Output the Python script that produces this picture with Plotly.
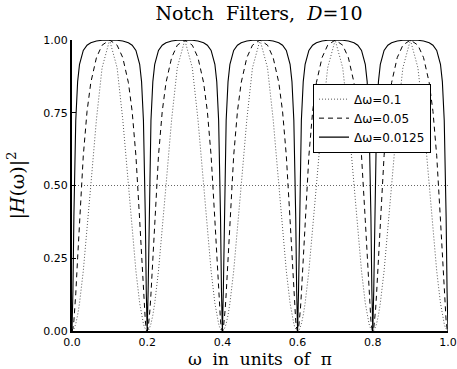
import plotly.graph_objects as go

# frequency in units of pi
omega = [
    0, 0.0025, 0.005, 0.0075, 0.01, 0.015, 0.02, 0.03, 0.04, 0.05, 0.065, 0.08, 0.1, 0.12, 0.135, 0.15, 0.16, 0.17, 0.18, 0.185, 0.19, 0.1925, 0.195, 0.1975,
    0.2, 0.2025, 0.205, 0.2075, 0.21, 0.215, 0.22, 0.23, 0.24, 0.25, 0.265, 0.28, 0.3, 0.32, 0.335, 0.35, 0.36, 0.37, 0.38, 0.385, 0.39, 0.3925, 0.395, 0.3975,
    0.4, 0.4025, 0.405, 0.4075, 0.41, 0.415, 0.42, 0.43, 0.44, 0.45, 0.465, 0.48, 0.5, 0.52, 0.535, 0.55, 0.56, 0.57, 0.58, 0.585, 0.59, 0.5925, 0.595, 0.5975,
    0.6, 0.6025, 0.605, 0.6075, 0.61, 0.615, 0.62, 0.63, 0.64, 0.65, 0.665, 0.68, 0.7, 0.72, 0.735, 0.75, 0.76, 0.77, 0.78, 0.785, 0.79, 0.7925, 0.795, 0.7975,
    0.8, 0.8025, 0.805, 0.8075, 0.81, 0.815, 0.82, 0.83, 0.84, 0.85, 0.865, 0.88, 0.9, 0.92, 0.935, 0.95, 0.96, 0.97, 0.98, 0.985, 0.99, 0.9925, 0.995, 0.9975,
    1.0,
]

h_01 = [
    0, 0.0015, 0.0062, 0.0138, 0.0245, 0.0545, 0.0955, 0.2061, 0.3455, 0.5, 0.727, 0.9045, 1.0, 0.9045, 0.727, 0.5, 0.3455, 0.2061, 0.0955, 0.0545, 0.0245, 0.0138, 0.0062, 0.0015,
    0, 0.0015, 0.0062, 0.0138, 0.0245, 0.0545, 0.0955, 0.2061, 0.3455, 0.5, 0.727, 0.9045, 1.0, 0.9045, 0.727, 0.5, 0.3455, 0.2061, 0.0955, 0.0545, 0.0245, 0.0138, 0.0062, 0.0015,
    0, 0.0015, 0.0062, 0.0138, 0.0245, 0.0545, 0.0955, 0.2061, 0.3455, 0.5, 0.727, 0.9045, 1.0, 0.9045, 0.727, 0.5, 0.3455, 0.2061, 0.0955, 0.0545, 0.0245, 0.0138, 0.0062, 0.0015,
    0, 0.0015, 0.0062, 0.0138, 0.0245, 0.0545, 0.0955, 0.2061, 0.3455, 0.5, 0.727, 0.9045, 1.0, 0.9045, 0.727, 0.5, 0.3455, 0.2061, 0.0955, 0.0545, 0.0245, 0.0138, 0.0062, 0.0015,
    0, 0.0015, 0.0062, 0.0138, 0.0245, 0.0545, 0.0955, 0.2061, 0.3455, 0.5, 0.727, 0.9045, 1.0, 0.9045, 0.727, 0.5, 0.3455, 0.2061, 0.0955, 0.0545, 0.0245, 0.0138, 0.0062, 0.0015,
    0,
]

h_005 = [
    0, 0.0089, 0.0349, 0.0755, 0.1275, 0.2514, 0.3809, 0.6021, 0.7547, 0.8535, 0.9395, 0.9822, 1.0, 0.9822, 0.9395, 0.8535, 0.7547, 0.6021, 0.3809, 0.2514, 0.1275, 0.0755, 0.0349, 0.0089,
    0, 0.0089, 0.0349, 0.0755, 0.1275, 0.2514, 0.3809, 0.6021, 0.7547, 0.8535, 0.9395, 0.9822, 1.0, 0.9822, 0.9395, 0.8535, 0.7547, 0.6021, 0.3809, 0.2514, 0.1275, 0.0755, 0.0349, 0.0089,
    0, 0.0089, 0.0349, 0.0755, 0.1275, 0.2514, 0.3809, 0.6021, 0.7547, 0.8535, 0.9395, 0.9822, 1.0, 0.9822, 0.9395, 0.8535, 0.7547, 0.6021, 0.3809, 0.2514, 0.1275, 0.0755, 0.0349, 0.0089,
    0, 0.0089, 0.0349, 0.0755, 0.1275, 0.2514, 0.3809, 0.6021, 0.7547, 0.8535, 0.9395, 0.9822, 1.0, 0.9822, 0.9395, 0.8535, 0.7547, 0.6021, 0.3809, 0.2514, 0.1275, 0.0755, 0.0349, 0.0089,
    0, 0.0089, 0.0349, 0.0755, 0.1275, 0.2514, 0.3809, 0.6021, 0.7547, 0.8535, 0.9395, 0.9822, 1.0, 0.9822, 0.9395, 0.8535, 0.7547, 0.6021, 0.3809, 0.2514, 0.1275, 0.0755, 0.0349, 0.0089,
    0,
]

h_00125 = [
    0, 0.1383, 0.3922, 0.5932, 0.7231, 0.8571, 0.9166, 0.9643, 0.9821, 0.9904, 0.9964, 0.999, 1.0, 0.999, 0.9964, 0.9904, 0.9821, 0.9643, 0.9166, 0.8571, 0.7231, 0.5932, 0.3922, 0.1383,
    0, 0.1383, 0.3922, 0.5932, 0.7231, 0.8571, 0.9166, 0.9643, 0.9821, 0.9904, 0.9964, 0.999, 1.0, 0.999, 0.9964, 0.9904, 0.9821, 0.9643, 0.9166, 0.8571, 0.7231, 0.5932, 0.3922, 0.1383,
    0, 0.1383, 0.3922, 0.5932, 0.7231, 0.8571, 0.9166, 0.9643, 0.9821, 0.9904, 0.9964, 0.999, 1.0, 0.999, 0.9964, 0.9904, 0.9821, 0.9643, 0.9166, 0.8571, 0.7231, 0.5932, 0.3922, 0.1383,
    0, 0.1383, 0.3922, 0.5932, 0.7231, 0.8571, 0.9166, 0.9643, 0.9821, 0.9904, 0.9964, 0.999, 1.0, 0.999, 0.9964, 0.9904, 0.9821, 0.9643, 0.9166, 0.8571, 0.7231, 0.5932, 0.3922, 0.1383,
    0, 0.1383, 0.3922, 0.5932, 0.7231, 0.8571, 0.9166, 0.9643, 0.9821, 0.9904, 0.9964, 0.999, 1.0, 0.999, 0.9964, 0.9904, 0.9821, 0.9643, 0.9166, 0.8571, 0.7231, 0.5932, 0.3922, 0.1383,
    0,
]

half_power_x = [0.0, 1.0]
half_power_y = [0.5, 0.5]

series_names = ["Δω=0.1", "Δω=0.05", "Δω=0.0125"]
x_ticks = [0.0, 0.2, 0.4, 0.6, 0.8, 1.0]
x_tick_text = ["0.0", "0.2", "0.4", "0.6", "0.8", "1.0"]
y_ticks = [0.0, 0.25, 0.5, 0.75, 1.0]
y_tick_text = ["0.00", "0.25", "0.50", "0.75", "1.00"]

fig = go.Figure()
fig.add_trace(go.Scatter(x=half_power_x, y=half_power_y, mode="lines",
                         line=dict(color="#666666", width=1, dash="1px,2px"),
                         showlegend=False, hoverinfo="skip"))
fig.add_trace(go.Scatter(x=omega, y=h_01, mode="lines", name=series_names[0],
                         line=dict(color="#555555", width=1, dash="1px,2px")))
fig.add_trace(go.Scatter(x=omega, y=h_005, mode="lines", name=series_names[1],
                         line=dict(color="black", width=1, dash="5px,4px")))
fig.add_trace(go.Scatter(x=omega, y=h_00125, mode="lines", name=series_names[2],
                         line=dict(color="black", width=1.1)))

sans = "DejaVu Sans, sans-serif"
serif = "DejaVu Serif, serif"
gap2 = "&nbsp;&nbsp;"

fig.update_layout(
    width=457, height=369,
    margin=dict(l=72, r=9, t=40, b=38),
    paper_bgcolor="white", plot_bgcolor="white",
    title=dict(text=f"Notch{gap2}Filters,{gap2}<i>D</i>=10", x=259 / 457, xanchor="center",
               y=1 - 13 / 369, yanchor="middle",
               font=dict(family=serif, size=19, color="black")),
    xaxis=dict(range=[0, 1], tickvals=x_ticks, ticktext=x_tick_text,
               showgrid=False, zeroline=False, showline=True, linecolor="black", linewidth=2,
               ticks="inside", ticklen=4, tickwidth=1, tickcolor="black",
               tickfont=dict(family=sans, size=11, color="black"),
               automargin=False,
               title=dict(text=f"ω{gap2}in{gap2}units{gap2}of{gap2}π", standoff=0,
                          font=dict(family=serif, size=17, color="black"))),
    yaxis=dict(range=[0, 1], tickvals=y_ticks, ticktext=y_tick_text,
               showgrid=False, zeroline=False, showline=True, linecolor="black", linewidth=2,
               ticks="inside", ticklen=4, tickwidth=1, tickcolor="black",
               tickfont=dict(family=sans, size=11, color="black"),
               automargin=False,
               title=dict(text="|<i>H</i>(ω)|<sup>2</sup>", standoff=14,
                          font=dict(family=serif, size=19, color="black"))),
    legend=dict(x=0.641, y=0.85, xanchor="left", yanchor="top",
                bgcolor="white", bordercolor="black", borderwidth=1,
                font=dict(family=sans, size=12, color="black"),
                tracegroupgap=0, itemwidth=30),
)

fig.write_html("out.html", config={"displayModeBar": False},
               post_script="document.body.style.margin='0';document.body.style.overflow='hidden';")
